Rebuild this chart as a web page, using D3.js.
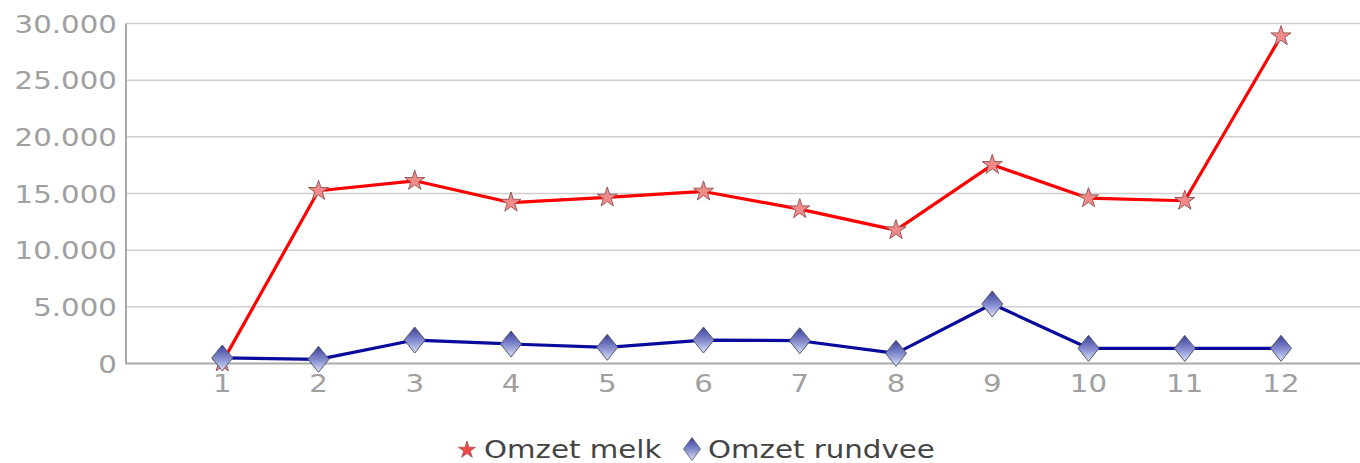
<!DOCTYPE html>
<html>
<head>
<meta charset="utf-8">
<script src="https://cdn.jsdelivr.net/npm/d3@7"></script>
<style>
  body { margin: 0; background: #fff; }
  svg text { font-family: "DejaVu Sans", Verdana, sans-serif; }
</style>
</head>
<body>
<div id="chart"></div>
<script>
// data
var months = [1, 2, 3, 4, 5, 6, 7, 8, 9, 10, 11, 12];
var omzetMelk = [100, 15240, 16120, 14200, 14650, 15180, 13620, 11770, 17530, 14590, 14360, 28880];
var omzetRundvee = [490, 370, 2070, 1720, 1430, 2070, 2010, 900, 5250, 1340, 1330, 1340];
var yTicks = [0, 5000, 10000, 15000, 20000, 25000, 30000];
var seriesNames = ["Omzet melk", "Omzet rundvee"];

var W = 1360, H = 463;
var stretch = 1.22; // text in the picture is wider than normal

var svg = d3.select("#chart").append("svg")
  .attr("width", W)
  .attr("height", H);

var defs = svg.append("defs");
var grad = defs.append("linearGradient")
  .attr("id", "diaGrad")
  .attr("x1", 0).attr("y1", 0).attr("x2", 0).attr("y2", 1);
grad.append("stop").attr("offset", "0%").attr("stop-color", "#3a3f9c");
grad.append("stop").attr("offset", "55%").attr("stop-color", "#8890d0");
grad.append("stop").attr("offset", "100%").attr("stop-color", "#dde2f8");

var x = d3.scaleLinear()
  .domain([0, 12])
  .range([126, 1281]);

var y = d3.scaleLinear()
  .domain([0, 30000])
  .range([363.5, 23.5]);

var fmt = function (d) { return d3.format(",")(d).replace(/,/g, "."); };

// grid lines
svg.append("g")
  .selectAll("line")
  .data(yTicks.slice(1))
  .enter()
  .append("line")
    .attr("x1", 126).attr("x2", W)
    .attr("y1", function (d) { return y(d); })
    .attr("y2", function (d) { return y(d); })
    .attr("stroke", "#cfcfcf")
    .attr("stroke-width", 1.5);

// axes lines
svg.append("line")
  .attr("x1", 126).attr("x2", 126)
  .attr("y1", y(30000)).attr("y2", y(0))
  .attr("stroke", "#aaaaaa").attr("stroke-width", 2);
svg.append("line")
  .attr("x1", 125).attr("x2", W)
  .attr("y1", y(0)).attr("y2", y(0))
  .attr("stroke", "#aaaaaa").attr("stroke-width", 2);

// y tick labels
svg.append("g")
  .selectAll("text")
  .data(yTicks)
  .enter()
  .append("text")
    .attr("transform", function (d) { return "translate(117," + (y(d) + 9) + ") scale(" + stretch + ",1)"; })
    .attr("text-anchor", "end")
    .attr("font-size", 24)
    .attr("fill", "#a0a0a0")
    .text(fmt);

// x tick labels
svg.append("g")
  .selectAll("text")
  .data(months)
  .enter()
  .append("text")
    .attr("transform", function (d) { return "translate(" + x(d) + ",392) scale(" + stretch + ",1)"; })
    .attr("text-anchor", "middle")
    .attr("font-size", 24)
    .attr("fill", "#a0a0a0")
    .text(function (d) { return d; });

var line = d3.line()
  .x(function (d, i) { return x(months[i]); })
  .y(function (d) { return y(d); });

svg.append("path")
  .datum(omzetMelk)
  .attr("d", line)
  .attr("fill", "none")
  .attr("stroke", "#ff0000")
  .attr("stroke-width", 3.2)
  .attr("stroke-linejoin", "round");

svg.append("path")
  .datum(omzetRundvee)
  .attr("d", line)
  .attr("fill", "none")
  .attr("stroke", "#0a0a9c")
  .attr("stroke-width", 3.2)
  .attr("stroke-linejoin", "round");

var star = d3.symbol().type(d3.symbolStar).size(125);
function diamond(w, h) {
  return "M0," + (-h / 2) + "L" + (w / 2) + ",0L0," + (h / 2) + "L" + (-w / 2) + ",0Z";
}

// melk markers (drawn first, rundvee on top)
svg.append("g")
  .selectAll("path")
  .data(omzetMelk)
  .enter()
  .append("path")
    .attr("d", star)
    .attr("transform", function (d, i) { return "translate(" + x(months[i]) + "," + y(d) + ")"; })
    .attr("fill", "#f28a8a")
    .attr("stroke", "#9a5a5a")
    .attr("stroke-width", 1);

svg.append("g")
  .selectAll("path")
  .data(omzetRundvee)
  .enter()
  .append("path")
    .attr("d", diamond(21, 26))
    .attr("transform", function (d, i) { return "translate(" + x(months[i]) + "," + y(d) + ")"; })
    .attr("fill", "url(#diaGrad)")
    .attr("stroke", "#55586a")
    .attr("stroke-width", 1);

// legend
var legend = svg.append("g");
legend.append("path")
  .attr("d", d3.symbol().type(d3.symbolStar).size(90))
  .attr("transform", "translate(467,450)")
  .attr("fill", "#ee4a4a")
  .attr("stroke", "#a05050")
  .attr("stroke-width", 0.8);
legend.append("text")
  .attr("transform", "translate(484,458) scale(" + stretch + ",1)")
  .attr("font-size", 24)
  .attr("fill", "#444444")
  .text(seriesNames[0]);
legend.append("path")
  .attr("d", diamond(17, 23))
  .attr("transform", "translate(692,449)")
  .attr("fill", "url(#diaGrad)")
  .attr("stroke", "#55586a")
  .attr("stroke-width", 0.8);
legend.append("text")
  .attr("transform", "translate(708,458) scale(" + stretch + ",1)")
  .attr("font-size", 24)
  .attr("fill", "#444444")
  .text(seriesNames[1]);
</script>
</body>
</html>
